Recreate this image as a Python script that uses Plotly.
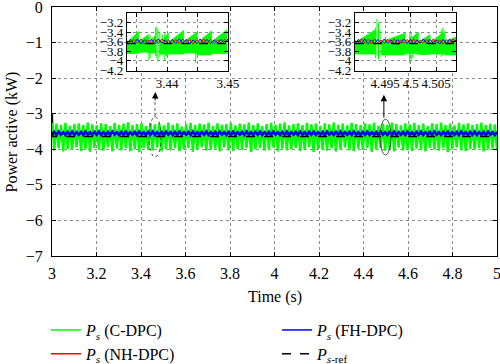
import numpy as np
import plotly.graph_objects as go

# ---------------- data ----------------
# main window: C-DPC (green), values sampled evenly 3..5 s
green_main = [
    -3.02,-4.03,-3.28,-3.97,-3.31,-4.06,-3.26,-3.99,-3.34,-4.02,-3.29,-3.95,-3.27,-4.05,-3.32,-4.00,-3.25,-4.07,-3.30,-3.96,
    -3.33,-4.01,-3.27,-4.04,-3.29,-3.94,-3.35,-4.06,-3.26,-3.98,-3.31,-4.03,-3.28,-3.96,-3.24,-4.05,-3.32,-4.00,-3.29,-4.08,
    -3.27,-3.97,-3.34,-4.02,-3.26,-4.04,-3.30,-3.95,-3.28,-4.06,-3.33,-3.99,-3.25,-4.03,-3.31,-3.97,-3.27,-4.05,-3.36,-4.01,
    -3.29,-3.96,-3.26,-4.07,-3.32,-4.00,-3.28,-3.94,-3.30,-4.04,-3.25,-4.02,-3.34,-3.98,-3.27,-4.06,-3.31,-3.95,-3.29,-4.03,
    -3.26,-4.05,-3.33,-3.99,-3.28,-4.02,-3.30,-3.96,-3.25,-4.08,-3.32,-4.00,-3.27,-3.97,-3.35,-4.04,-3.29,-4.01,-3.26,-3.95,
    -3.31,-4.06,-3.28,-3.98,-3.24,-4.03,-3.33,-4.00,-3.29,-3.96,-3.27,-4.05,-3.32,-4.02,-3.26,-3.94,-3.30,-4.07,-3.28,-3.99,
    -3.34,-4.01,-3.27,-4.04,-3.30,-3.97,-3.25,-4.06,-3.31,-4.00,-3.28,-3.95,-3.33,-4.03,-3.26,-4.05,-3.29,-3.98,-3.32,-4.02,
    -3.27,-3.96,-3.30,-4.07,-3.26,-4.01,-3.34,-3.97,-3.28,-4.04,-3.31,-3.99,-3.25,-4.06,-3.29,-3.95,-3.33,-4.03,-3.27,-4.00,
    -3.30,-4.05,-3.26,-3.98,-3.32,-4.02,-3.28,-4.06,-3.35,-3.96,-3.27,-4.01,-3.29,-4.04,-3.25,-3.97,-3.31,-4.08,-3.28,-4.00,
    -3.33,-3.95,-3.26,-4.03,-3.30,-4.05,-3.27,-3.99,-3.32,-4.02,-3.29,-3.96,-3.25,-4.06,-3.31,-4.01,-3.28,-3.98,-3.30,-4.03,
]
# FH-DPC (blue)
blue_main = [
    -3.59,-3.51,-3.60,-3.50,-3.59,-3.52,-3.60,-3.51,-3.59,-3.50,-3.60,-3.52,-3.59,-3.51,-3.60,-3.50,-3.59,-3.52,-3.60,-3.51,
    -3.59,-3.50,-3.60,-3.52,-3.59,-3.51,-3.60,-3.50,-3.59,-3.52,-3.60,-3.51,-3.59,-3.50,-3.60,-3.52,-3.59,-3.51,-3.60,-3.50,
    -3.59,-3.52,-3.60,-3.51,-3.59,-3.50,-3.60,-3.52,-3.59,-3.51,-3.60,-3.50,-3.59,-3.52,-3.60,-3.51,-3.59,-3.50,-3.60,-3.52,
    -3.59,-3.51,-3.60,-3.50,-3.59,-3.52,-3.60,-3.51,-3.59,-3.50,-3.60,-3.52,-3.59,-3.51,-3.60,-3.50,-3.59,-3.52,-3.60,-3.51,
    -3.59,-3.50,-3.60,-3.52,-3.59,-3.51,-3.60,-3.50,-3.59,-3.52,-3.60,-3.51,-3.59,-3.50,-3.60,-3.52,-3.59,-3.51,-3.60,-3.50,
    -3.59,-3.52,-3.60,-3.51,-3.59,-3.50,-3.60,-3.52,-3.59,-3.51,-3.60,-3.50,-3.59,-3.52,-3.60,-3.51,-3.59,-3.50,-3.60,-3.52,
    -3.59,-3.51,-3.60,-3.50,-3.59,-3.52,-3.60,-3.51,-3.59,-3.50,-3.60,-3.52,-3.59,-3.51,-3.60,-3.50,-3.59,-3.52,-3.60,-3.51,
    -3.59,-3.50,-3.60,-3.52,-3.59,-3.51,-3.60,-3.50,-3.59,-3.52,-3.60,-3.51,-3.59,-3.50,-3.60,-3.52,-3.59,-3.51,-3.60,-3.50,
    -3.59,-3.52,-3.60,-3.51,-3.59,-3.50,-3.60,-3.52,-3.59,-3.51,-3.60,-3.50,-3.59,-3.52,-3.60,-3.51,-3.59,-3.50,-3.60,-3.52,
    -3.59,-3.51,-3.60,-3.50,-3.59,-3.52,-3.60,-3.51,-3.59,-3.50,-3.60,-3.52,-3.59,-3.51,-3.60,-3.50,-3.59,-3.52,-3.60,-3.51,
]
# NH-DPC (red), mostly hidden behind blue
red_main = [
    -3.58,-3.54,-3.59,-3.53,-3.58,-3.54,-3.59,-3.53,-3.58,-3.54,-3.58,-3.53,-3.59,-3.54,-3.58,-3.53,-3.58,-3.54,-3.59,-3.53,
    -3.58,-3.54,-3.58,-3.53,-3.59,-3.54,-3.58,-3.53,-3.58,-3.54,-3.59,-3.53,-3.58,-3.54,-3.58,-3.53,-3.59,-3.54,-3.58,-3.53,
    -3.58,-3.54,-3.59,-3.53,-3.58,-3.54,-3.58,-3.53,-3.59,-3.54,-3.58,-3.53,-3.58,-3.54,-3.59,-3.53,-3.58,-3.54,-3.58,-3.53,
    -3.59,-3.54,-3.58,-3.53,-3.58,-3.54,-3.59,-3.53,-3.58,-3.54,-3.58,-3.53,-3.59,-3.54,-3.58,-3.53,-3.58,-3.54,-3.59,-3.53,
    -3.58,-3.54,-3.58,-3.53,-3.59,-3.54,-3.58,-3.53,-3.58,-3.54,-3.59,-3.53,-3.58,-3.54,-3.58,-3.53,-3.59,-3.54,-3.58,-3.53,
]
# reference P_s-ref
ref_t = [3.0, 3.004, 5.0]
ref_v = [-3.0, -3.64, -3.64]

# ---- inset 1 (3.4334 .. 3.45 s) ----
in1_range_x = [3.4334, 3.4500]
in1_wedge_t0 = [3.4334, 3.4353, 3.4369, 3.4388, 3.4402, 3.4427, 3.4449, 3.4473]
in1_wedge_t1 = [3.4353, 3.4369, 3.4380, 3.4402, 3.4427, 3.4449, 3.4473, 3.4498]
in1_wedge_lo = [-3.85, -3.82, -3.84, -3.86, -3.86, -3.84, -3.88, -3.85]
in1_wedge_h0 = [-3.62, -3.60, -3.62, -3.63, -3.62, -3.60, -3.63, -3.60]
in1_wedge_h1 = [-3.38, -3.45, -3.48, -3.42, -3.36, -3.40, -3.37, -3.35]
in1_spike_t = [3.4370, 3.4372, 3.4381, 3.4383, 3.4385, 3.4388, 3.4392, 3.4396, 3.4399, 3.4447]
in1_spike_top = [-3.50, -3.45, -3.30, -3.28, -3.35, -3.40, -3.45, -3.42, -3.50, -3.45]
in1_spike_bot = [-4.00, -3.95, -3.90, -3.95, -4.02, -3.92, -3.88, -4.00, -3.90, -4.05]
in1_blue = [-3.63,-3.55,-3.64,-3.54,-3.65,-3.56,-3.63,-3.55,-3.64,-3.54,-3.63,-3.56,-3.65,-3.55,-3.64,
            -3.54,-3.63,-3.55,-3.65,-3.56,-3.64,-3.54,-3.63,-3.55,-3.64,-3.56,-3.63,-3.55,-3.65,-3.54]
in1_red = [-3.58,-3.64,-3.55,-3.63,-3.54,-3.65,-3.56,-3.63,-3.55,-3.64,-3.54,-3.63,-3.56,-3.65,-3.55,
           -3.64,-3.54,-3.63,-3.55,-3.65,-3.56,-3.64,-3.54,-3.63,-3.55,-3.64,-3.56,-3.63,-3.55,-3.60]

# ---- inset 2 (4.4891 .. 4.5089 s) ----
in2_range_x = [4.4891, 4.5089]
in2_wedge_t0 = [4.4891, 4.4943, 4.4989, 4.5015, 4.5038, 4.5067]
in2_wedge_t1 = [4.4930, 4.4989, 4.5015, 4.5038, 4.5067, 4.5089]
in2_wedge_lo = [-3.86, -3.88, -3.85, -3.87, -3.86, -3.88]
in2_wedge_h0 = [-3.62, -3.60, -3.63, -3.61, -3.62, -3.60]
in2_wedge_h1 = [-3.35, -3.42, -3.40, -3.45, -3.38, -3.50]
in2_spike_t = [4.4931, 4.4934, 4.4937, 4.4940, 4.4998, 4.5001, 4.5004, 4.5060, 4.5063]
in2_spike_top = [-3.30, -3.12, -3.20, -3.35, -3.45, -3.40, -3.50, -3.35, -3.30]
in2_spike_bot = [-3.95, -3.90, -3.98, -3.92, -4.05, -4.00, -3.95, -3.92, -3.90]
in2_blue = [-3.64,-3.55,-3.63,-3.54,-3.65,-3.56,-3.64,-3.55,-3.63,-3.54,-3.64,-3.56,-3.65,-3.55,-3.63,
            -3.54,-3.64,-3.55,-3.65,-3.56,-3.63,-3.54,-3.64,-3.55,-3.63,-3.56,-3.65,-3.55,-3.64,-3.54,
            -3.63,-3.56]
in2_red = [-3.57,-3.64,-3.53,-3.63,-3.55,-3.65,-3.54,-3.63,-3.56,-3.64,-3.55,-3.63,-3.54,-3.65,-3.56,
           -3.64,-3.55,-3.63,-3.54,-3.65,-3.56,-3.63,-3.55,-3.64,-3.54,-3.63,-3.56,-3.65,-3.55,-3.64,
           -3.54,-3.60]

x_ticks = [3, 3.2, 3.4, 3.6, 3.8, 4, 4.2, 4.4, 4.6, 4.8, 5]
y_ticks = [0, -1, -2, -3, -4, -5, -6, -7]
in_y_ticks = [-3.2, -3.4, -3.6, -3.8, -4, -4.2]
in_y_text = ["−3.2", "−3.4", "−3.6", "−3.8", "−4", "−4.2"]
legend_names = ["<i>P</i><sub><i>s</i></sub> (C-DPC)", "<i>P</i><sub><i>s</i></sub> (NH-DPC)",
                "<i>P</i><sub><i>s</i></sub> (FH-DPC)", "<i>P</i><sub><i>s</i>-ref</sub>"]

GREEN = "#00ff00"
BLUE = "#0000ff"
RED = "#ff0000"
FONT = "Liberation Serif, Times New Roman, DejaVu Serif, serif"

fig = go.Figure()

t_g = np.linspace(3, 5, len(green_main))
t_b = np.linspace(3, 5, len(blue_main))
t_r = np.linspace(3, 5, len(red_main))

fig.add_trace(go.Scatter(x=t_g, y=green_main, mode="lines", line=dict(color=GREEN, width=2.4), showlegend=False))
fig.add_trace(go.Scatter(x=t_r, y=red_main, mode="lines", line=dict(color=RED, width=1), showlegend=False))
fig.add_trace(go.Scatter(x=t_b, y=blue_main, mode="lines", line=dict(color=BLUE, width=2.6), showlegend=False))
fig.add_trace(go.Scatter(x=ref_t, y=ref_v, mode="lines", line=dict(color="black", width=1.5, dash="dash"),
                         showlegend=False))

# legend entries (no data, only legend symbols)
for name, col, dash, lg in zip(legend_names, [GREEN, RED, BLUE, "black"],
                               ["solid", "solid", "solid", "dash"],
                               ["legend", "legend", "legend2", "legend2"]):
    fig.add_trace(go.Scatter(x=[None], y=[None], mode="lines", name=name, legend=lg,
                             line=dict(color=col, width=1.5, dash=dash)))


def inset_traces(xa, ya, t0, t1, lo, h0, h1, st, stop, sbot, blue, red, rng):
    px, py = [], []
    for a, b, l, u0, u1 in zip(t0, t1, lo, h0, h1):
        px += [a, a, b, b, a, None]
        py += [l, u0, u1, l, l, None]
    fig.add_trace(go.Scatter(x=px, y=py, mode="lines", fill="toself", fillcolor=GREEN,
                             line=dict(color=GREEN, width=0.8), xaxis=xa, yaxis=ya, showlegend=False))
    sx, sy = [], []
    for t, a, b in zip(st, stop, sbot):
        sx += [t, t, None]
        sy += [a, b, None]
    fig.add_trace(go.Scatter(x=sx, y=sy, mode="lines", line=dict(color=GREEN, width=1),
                             xaxis=xa, yaxis=ya, showlegend=False))
    tb = np.linspace(rng[0], rng[1], len(blue))
    tr = np.linspace(rng[0], rng[1], len(red))
    fig.add_trace(go.Scatter(x=tr, y=red, mode="lines", line=dict(color=RED, width=1),
                             xaxis=xa, yaxis=ya, showlegend=False))
    fig.add_trace(go.Scatter(x=tb, y=blue, mode="lines", line=dict(color=BLUE, width=1),
                             xaxis=xa, yaxis=ya, showlegend=False))
    fig.add_trace(go.Scatter(x=[rng[0], rng[1]], y=[ref_v[-1], ref_v[-1]], mode="lines",
                             line=dict(color="black", width=1.2, dash="dash"),
                             xaxis=xa, yaxis=ya, showlegend=False))


inset_traces("x2", "y2", in1_wedge_t0, in1_wedge_t1, in1_wedge_lo, in1_wedge_h0, in1_wedge_h1,
             in1_spike_t, in1_spike_top, in1_spike_bot, in1_blue, in1_red, in1_range_x)
inset_traces("x3", "y3", in2_wedge_t0, in2_wedge_t1, in2_wedge_lo, in2_wedge_h0, in2_wedge_h1,
             in2_spike_t, in2_spike_top, in2_spike_bot, in2_blue, in2_red, in2_range_x)

grid = dict(showgrid=True, gridcolor="#8c8c8c", griddash="dot", gridwidth=1)
axline = dict(showline=True, linecolor="black", linewidth=1.2, mirror="ticks", ticks="inside",
              tickcolor="black", ticklen=4, zeroline=False, automargin=False, ticklabeloverflow="allow")
main_tick = dict(family=FONT, size=16, color="black")
in_tick = dict(family=FONT, size=13, color="black")
legend_common = dict(orientation="v", xref="container", yref="container", xanchor="left", yanchor="top",
                     font=dict(size=16, family=FONT, color="black"), bgcolor="rgba(0,0,0,0)",
                     tracegroupgap=0, itemwidth=30)

fig.update_layout(
    width=500, height=364,
    margin=dict(l=52, r=3, t=7, b=108, autoexpand=False),
    paper_bgcolor="white", plot_bgcolor="white",
    font=dict(family=FONT, size=16, color="black"),
    xaxis=dict(range=[3, 5], tickvals=x_ticks, ticktext=[f"{v:g}" for v in x_ticks], ticklabelstandoff=3,
               tickfont=main_tick, **grid, **axline),
    yaxis=dict(range=[-7, 0], tickvals=y_ticks, ticklabelstandoff=5, tickfont=main_tick,
               **grid, **axline),
    xaxis2=dict(domain=[0.1685, 0.3955], anchor="y2", range=in1_range_x,
                tickvals=[3.435, 3.44, 3.445, 3.45], ticktext=["", "3.44", "", "3.45"],
                tickfont=in_tick, **grid, **axline),
    yaxis2=dict(domain=[0.743, 0.976], anchor="x2", range=[-4.22, -2.99], tickvals=in_y_ticks,
                ticktext=in_y_text, tickfont=in_tick, **grid, **axline),
    xaxis3=dict(domain=[0.681, 0.908], anchor="y3", range=in2_range_x,
                tickvals=[4.495, 4.5, 4.505], ticktext=["4.495", "4.5", "4.505"],
                tickfont=in_tick, **grid, **axline),
    yaxis3=dict(domain=[0.743, 0.976], anchor="x3", range=[-4.22, -2.99], tickvals=in_y_ticks,
                ticktext=in_y_text, tickfont=in_tick, **grid, **axline),
    legend=dict(x=0.092, y=0.140, **legend_common),
    legend2=dict(x=0.554, y=0.140, **legend_common),
    showlegend=True,
)

# axis titles
fig.add_annotation(text="Time (s)", xref="paper", yref="paper", x=0.5, y=-0.1647,
                   xanchor="center", yanchor="middle", showarrow=False, font=dict(family=FONT, size=16))
fig.add_annotation(text="Power active (kW)", xref="paper", yref="paper", x=-0.09, y=0.5,
                   xanchor="center", yanchor="middle", textangle=-90, showarrow=False,
                   font=dict(family=FONT, size=16))

# white backgrounds for insets
for xr, yr in [("x2 domain", "y2 domain"), ("x3 domain", "y3 domain")]:
    fig.add_shape(type="rect", xref=xr, yref=yr, x0=0, x1=1, y0=0, y1=1,
                  fillcolor="white", line=dict(width=0), layer="below")

# ellipses around the zoomed regions
fig.add_shape(type="circle", xref="x", yref="y", x0=3.436, x1=3.490, y0=-4.22, y1=-3.09,
              line=dict(color="#444", width=1, dash="dot"))
fig.add_shape(type="circle", xref="x", yref="y", x0=4.474, x1=4.524, y0=-4.16, y1=-3.15,
              line=dict(color="#444", width=0.9))
# connector lines
fig.add_shape(type="line", xref="x", yref="y", x0=3.463, x1=3.463, y0=-3.09, y1=-2.67,
              line=dict(color="#444", width=0.9, dash="dot"))
fig.add_annotation(x=3.465, y=-2.39, ax=3.463, ay=-2.67, axref="x", ayref="y", xref="x", yref="y",
                   text="", showarrow=True, arrowhead=2, arrowsize=1.3, arrowwidth=1, arrowcolor="black")
fig.add_annotation(x=4.4915, y=-2.47, ax=4.4915, ay=-3.15, axref="x", ayref="y", xref="x", yref="y",
                   text="", showarrow=True, arrowhead=2, arrowsize=1.3, arrowwidth=1, arrowcolor="black")

fig.write_html("out.html", config={"displayModeBar": False},
               post_script="document.body.style.margin='0';document.body.style.overflow='hidden';")
